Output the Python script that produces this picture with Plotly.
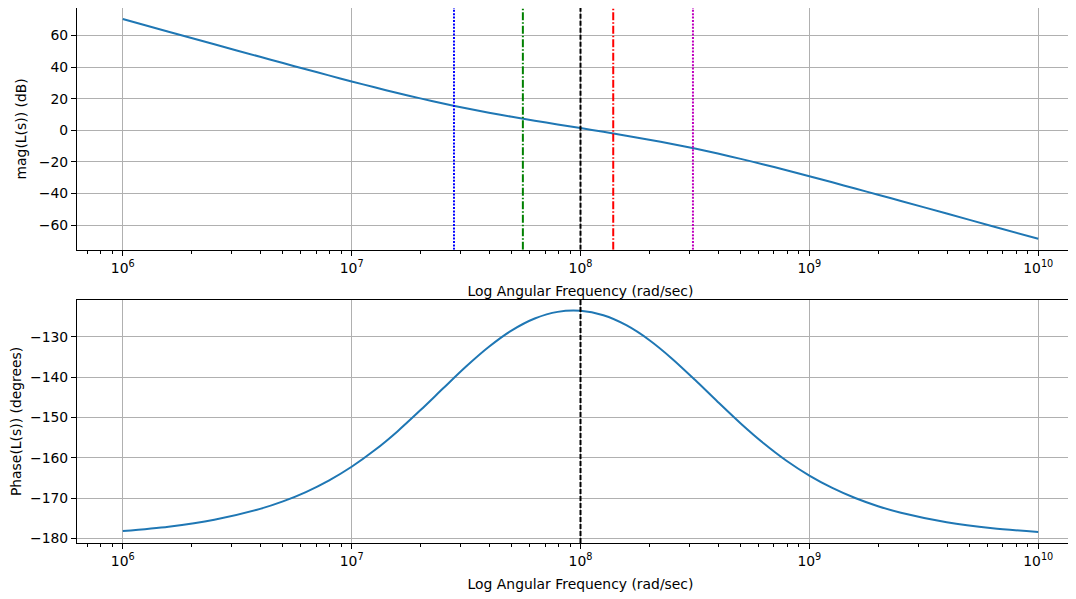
import plotly.graph_objects as go

# ---------------- data ----------------
freq_rad_s = [1.0e6, 1.585e6, 2.512e6, 3.981e6, 5.012e6, 6.310e6, 7.943e6,
              1.0e7, 1.259e7, 1.585e7, 1.995e7, 2.512e7, 3.162e7, 3.981e7, 5.012e7, 6.310e7, 7.943e7,
              1.0e8, 1.259e8, 1.585e8, 1.995e8, 2.512e8, 3.162e8, 3.981e8, 5.012e8, 6.310e8, 7.943e8,
              1.0e9, 1.259e9, 1.585e9, 1.995e9, 2.512e9, 3.981e9, 6.310e9, 1.0e10]
mag_db = [70.41, 62.41, 54.43, 46.49, 42.54, 38.61, 34.73,
          30.92, 27.19, 23.60, 20.17, 16.94, 13.93, 11.13, 8.52, 6.06, 3.69,
          1.36, -1.00, -3.42, -5.96, -8.68, -11.61, -14.75, -18.11, -21.65, -25.33,
          -29.11, -32.97, -36.88, -40.82, -44.78, -52.74, -60.73, -68.72]
phase_deg = [-178.14, -177.05, -175.34, -172.64, -170.78, -168.47, -165.63,
             -162.20, -158.12, -153.42, -148.20, -142.74, -137.34, -132.44, -128.37, -125.43, -123.78,
             -123.52, -124.64, -127.10, -130.75, -135.38, -140.63, -146.11, -151.46, -156.37, -160.70,
             -164.38, -167.44, -169.94, -171.97, -173.60, -175.95, -177.44, -178.38]

mag_marker_freqs = [2.8e7, 5.6e7, 1.0e8, 1.39e8, 3.1e8]
mag_marker_colors = ["#0000ff", "#008000", "#000000", "#ff0000", "#bf00bf"]
mag_marker_dashes = ["2px,1.4px", "8px,2px,1.5px,2px", "5px,2px", "8px,2px,1.5px,2px", "2px,1.4px"]

phase_marker_freqs = [1.0e8]
phase_marker_colors = ["#000000"]
phase_marker_dashes = ["5px,2px"]

x_tick_vals = [1e6, 1e7, 1e8, 1e9, 1e10]
x_tick_text = ["10<sup>6</sup>", "10<sup>7</sup>", "10<sup>8</sup>", "10<sup>9</sup>", "10<sup>10</sup>"]
mag_ticks = [-60, -40, -20, 0, 20, 40, 60]
phase_ticks = [-180, -170, -160, -150, -140, -130]

x_range_log = [5.8, 10.2]
mag_range = [-75.7, 77.4]
phase_range = [-181.1, -120.8]

# ---------------- figure ----------------
FONT = "DejaVu Sans"
FS = 13.9
C0 = "#1f77b4"

fig = go.Figure()

fig.add_trace(go.Scatter(x=freq_rad_s, y=mag_db, mode="lines",
                         line=dict(color=C0, width=2, shape="spline", smoothing=0.8),
                         xaxis="x", yaxis="y", showlegend=False, hoverinfo="skip"))
for f, c, d in zip(mag_marker_freqs, mag_marker_colors, mag_marker_dashes):
    fig.add_trace(go.Scatter(x=[f, f], y=mag_range, mode="lines", line=dict(color=c, width=2, dash=d),
                             xaxis="x", yaxis="y", showlegend=False, hoverinfo="skip"))

fig.add_trace(go.Scatter(x=freq_rad_s, y=phase_deg, mode="lines",
                         line=dict(color=C0, width=2, shape="spline", smoothing=0.8),
                         xaxis="x2", yaxis="y2", showlegend=False, hoverinfo="skip"))
for f, c, d in zip(phase_marker_freqs, phase_marker_colors, phase_marker_dashes):
    fig.add_trace(go.Scatter(x=[f, f], y=phase_range, mode="lines", line=dict(color=c, width=2, dash=d),
                             xaxis="x2", yaxis="y2", showlegend=False, hoverinfo="skip"))

minor_vals = [m * 10 ** e for e in range(5, 11) for m in range(2, 10)]
minor_vals = [v for v in minor_vals if 10 ** 5.8 <= v <= 10 ** 10.2]

def xaxis_cfg(anchor):
    return dict(
        type="log", range=x_range_log, anchor=anchor,
        tickmode="array", tickvals=x_tick_vals, ticktext=x_tick_text,
        ticks="outside", ticklen=5, tickwidth=1.1, tickcolor="black",
        showgrid=True, gridcolor="#b0b0b0", gridwidth=1.1,
        showline=True, linecolor="black", linewidth=1.1, mirror=True,
        zeroline=False,
        minor=dict(tickmode="array", tickvals=minor_vals, ticks="outside", ticklen=3,
                   tickwidth=0.8, tickcolor="black", showgrid=False),
        title=dict(text="Log Angular Frequency (rad/sec)", font=dict(family=FONT, size=FS, color="black"),
                   standoff=11),
        tickfont=dict(family=FONT, size=FS, color="black"),
        automargin=False,
    )

def yaxis_cfg(anchor, rng, ticks, title, standoff):
    return dict(
        range=rng, anchor=anchor,
        tickmode="array", tickvals=ticks,
        ticks="outside", ticklen=5, tickwidth=1.1, tickcolor="black",
        showgrid=True, gridcolor="#b0b0b0", gridwidth=1.1,
        showline=True, linecolor="black", linewidth=1.1, mirror=True,
        zeroline=False,
        title=dict(text=title, font=dict(family=FONT, size=FS, color="black"), standoff=standoff),
        tickfont=dict(family=FONT, size=FS, color="black"),
        automargin=False,
    )

# The page body has an 8px default margin; the layout below compensates for it so that the
# axes land where the reference puts them (right spine of the reference lies past the crop).
fig.update_layout(
    width=1077, height=599,
    margin=dict(l=69, r=1, t=0, b=64),
    paper_bgcolor="white", plot_bgcolor="white",
    font=dict(family=FONT, size=FS, color="black"),
    xaxis=dict(domain=[0, 1], **xaxis_cfg("y")),
    yaxis=dict(domain=[0.548, 1.0], **yaxis_cfg("x", mag_range, mag_ticks, "mag(L(s)) (dB)", 8)),
    xaxis2=dict(domain=[0, 1], **xaxis_cfg("y2")),
    yaxis2=dict(domain=[0.0, 0.4545], **yaxis_cfg("x2", phase_range, phase_ticks, "Phase(L(s)) (degrees)", 6)),
)

fig.write_html("out.html")
